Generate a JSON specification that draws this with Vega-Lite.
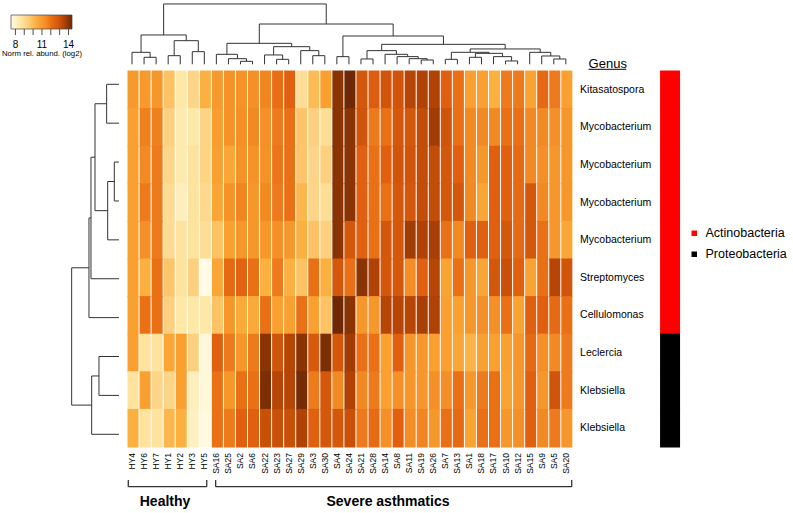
{
"$schema": "https://vega.github.io/schema/vega-lite/v6.json",
"width": 793, "height": 513, "padding": 0,
"autosize": {"type": "fit", "contains": "padding"},
"background": "white",
"config": {"view": {"stroke": null}, "font": "Liberation Sans"},
"datasets": {
"samples": [
{"sample":"HY4","col":0},{"sample":"HY6","col":1},{"sample":"HY7","col":2},{"sample":"HY1","col":3},{"sample":"HY2","col":4},{"sample":"HY3","col":5},{"sample":"HY5","col":6},{"sample":"SA16","col":7},{"sample":"SA25","col":8},{"sample":"SA2","col":9},{"sample":"SA6","col":10},{"sample":"SA22","col":11},{"sample":"SA23","col":12},{"sample":"SA27","col":13},{"sample":"SA29","col":14},{"sample":"SA3","col":15},{"sample":"SA30","col":16},{"sample":"SA4","col":17},{"sample":"SA24","col":18},{"sample":"SA21","col":19},{"sample":"SA28","col":20},{"sample":"SA14","col":21},{"sample":"SA8","col":22},{"sample":"SA11","col":23},{"sample":"SA19","col":24},{"sample":"SA26","col":25},{"sample":"SA7","col":26},{"sample":"SA13","col":27},{"sample":"SA1","col":28},{"sample":"SA18","col":29},{"sample":"SA17","col":30},{"sample":"SA10","col":31},{"sample":"SA12","col":32},{"sample":"SA15","col":33},{"sample":"SA9","col":34},{"sample":"SA5","col":35},{"sample":"SA20","col":36}
],
"genera": [
{"row":0,"genus":"Kitasatospora","phylum":"Actinobacteria"},
{"row":1,"genus":"Mycobacterium","phylum":"Actinobacteria"},
{"row":2,"genus":"Mycobacterium","phylum":"Actinobacteria"},
{"row":3,"genus":"Mycobacterium","phylum":"Actinobacteria"},
{"row":4,"genus":"Mycobacterium","phylum":"Actinobacteria"},
{"row":5,"genus":"Streptomyces","phylum":"Actinobacteria"},
{"row":6,"genus":"Cellulomonas","phylum":"Actinobacteria"},
{"row":7,"genus":"Leclercia","phylum":"Proteobacteria"},
{"row":8,"genus":"Klebsiella","phylum":"Proteobacteria"},
{"row":9,"genus":"Klebsiella","phylum":"Proteobacteria"}
],
"legendTicks": [{"tick":8},{"tick":9},{"tick":10},{"tick":11},{"tick":12},{"tick":13},{"tick":14}],
"colTree": [
{"x1":1.5,"x2":1.5,"h1":0,"h2":1.17},{"x1":2.5,"x2":2.5,"h1":0,"h2":1.17},{"x1":1.5,"x2":2.5,"h1":1.17,"h2":1.17},
{"x1":0.5,"x2":0.5,"h1":0,"h2":2.0},{"x1":2.0,"x2":2.0,"h1":1.17,"h2":2.0},{"x1":0.5,"x2":2.0,"h1":2.0,"h2":2.0},
{"x1":3.5,"x2":3.5,"h1":0,"h2":1.44},{"x1":4.5,"x2":4.5,"h1":0,"h2":1.44},{"x1":3.5,"x2":4.5,"h1":1.44,"h2":1.44},
{"x1":5.5,"x2":5.5,"h1":0,"h2":2.11},{"x1":6.5,"x2":6.5,"h1":0,"h2":2.11},{"x1":5.5,"x2":6.5,"h1":2.11,"h2":2.11},
{"x1":4.0,"x2":4.0,"h1":1.44,"h2":3.94},{"x1":6.0,"x2":6.0,"h1":2.11,"h2":3.94},{"x1":4.0,"x2":6.0,"h1":3.94,"h2":3.94},
{"x1":1.25,"x2":1.25,"h1":2.0,"h2":4.89},{"x1":5.0,"x2":5.0,"h1":3.94,"h2":4.89},{"x1":1.25,"x2":5.0,"h1":4.89,"h2":4.89},
{"x1":9.5,"x2":9.5,"h1":0,"h2":0.5},{"x1":10.5,"x2":10.5,"h1":0,"h2":0.5},{"x1":9.5,"x2":10.5,"h1":0.5,"h2":0.5},
{"x1":8.5,"x2":8.5,"h1":0,"h2":0.94},{"x1":10.0,"x2":10.0,"h1":0.5,"h2":0.94},{"x1":8.5,"x2":10.0,"h1":0.94,"h2":0.94},
{"x1":7.5,"x2":7.5,"h1":0,"h2":1.67},{"x1":9.25,"x2":9.25,"h1":0.94,"h2":1.67},{"x1":7.5,"x2":9.25,"h1":1.67,"h2":1.67},
{"x1":12.5,"x2":12.5,"h1":0,"h2":0.83},{"x1":13.5,"x2":13.5,"h1":0,"h2":0.83},{"x1":12.5,"x2":13.5,"h1":0.83,"h2":0.83},
{"x1":11.5,"x2":11.5,"h1":0,"h2":1.56},{"x1":13.0,"x2":13.0,"h1":0.83,"h2":1.56},{"x1":11.5,"x2":13.0,"h1":1.56,"h2":1.56},
{"x1":15.5,"x2":15.5,"h1":0,"h2":1.44},{"x1":16.5,"x2":16.5,"h1":0,"h2":1.44},{"x1":15.5,"x2":16.5,"h1":1.44,"h2":1.44},
{"x1":14.5,"x2":14.5,"h1":0,"h2":2.28},{"x1":16.0,"x2":16.0,"h1":1.44,"h2":2.28},{"x1":14.5,"x2":16.0,"h1":2.28,"h2":2.28},
{"x1":12.25,"x2":12.25,"h1":1.56,"h2":2.94},{"x1":15.25,"x2":15.25,"h1":2.28,"h2":2.94},{"x1":12.25,"x2":15.25,"h1":2.94,"h2":2.94},
{"x1":8.375,"x2":8.375,"h1":1.67,"h2":3.5},{"x1":13.75,"x2":13.75,"h1":2.94,"h2":3.5},{"x1":8.375,"x2":13.75,"h1":3.5,"h2":3.5},
{"x1":17.5,"x2":17.5,"h1":0,"h2":1.28},{"x1":18.5,"x2":18.5,"h1":0,"h2":1.28},{"x1":17.5,"x2":18.5,"h1":1.28,"h2":1.28},
{"x1":24.5,"x2":24.5,"h1":0,"h2":0.72},{"x1":25.5,"x2":25.5,"h1":0,"h2":0.72},{"x1":24.5,"x2":25.5,"h1":0.72,"h2":0.72},
{"x1":23.5,"x2":23.5,"h1":0,"h2":0.94},{"x1":25.0,"x2":25.0,"h1":0.72,"h2":0.94},{"x1":23.5,"x2":25.0,"h1":0.94,"h2":0.94},
{"x1":22.5,"x2":22.5,"h1":0,"h2":1.28},{"x1":24.25,"x2":24.25,"h1":0.94,"h2":1.28},{"x1":22.5,"x2":24.25,"h1":1.28,"h2":1.28},
{"x1":21.5,"x2":21.5,"h1":0,"h2":1.67},{"x1":23.375,"x2":23.375,"h1":1.28,"h2":1.67},{"x1":21.5,"x2":23.375,"h1":1.67,"h2":1.67},
{"x1":19.5,"x2":19.5,"h1":0,"h2":0.89},{"x1":20.5,"x2":20.5,"h1":0,"h2":0.89},{"x1":19.5,"x2":20.5,"h1":0.89,"h2":0.89},
{"x1":20.0,"x2":20.0,"h1":0.89,"h2":2.28},{"x1":22.4375,"x2":22.4375,"h1":1.67,"h2":2.28},{"x1":20.0,"x2":22.4375,"h1":2.28,"h2":2.28},
{"x1":26.5,"x2":26.5,"h1":0,"h2":0.83},{"x1":27.5,"x2":27.5,"h1":0,"h2":0.83},{"x1":26.5,"x2":27.5,"h1":0.83,"h2":0.83},
{"x1":28.5,"x2":28.5,"h1":0,"h2":1.17},{"x1":29.5,"x2":29.5,"h1":0,"h2":1.17},{"x1":28.5,"x2":29.5,"h1":1.17,"h2":1.17},
{"x1":31.5,"x2":31.5,"h1":0,"h2":0.56},{"x1":32.5,"x2":32.5,"h1":0,"h2":0.56},{"x1":31.5,"x2":32.5,"h1":0.56,"h2":0.56},
{"x1":30.5,"x2":30.5,"h1":0,"h2":1.28},{"x1":32.0,"x2":32.0,"h1":0.56,"h2":1.28},{"x1":30.5,"x2":32.0,"h1":1.28,"h2":1.28},
{"x1":29.0,"x2":29.0,"h1":1.17,"h2":1.83},{"x1":31.25,"x2":31.25,"h1":1.28,"h2":1.83},{"x1":29.0,"x2":31.25,"h1":1.83,"h2":1.83},
{"x1":27.0,"x2":27.0,"h1":0.83,"h2":2.0},{"x1":30.125,"x2":30.125,"h1":1.83,"h2":2.0},{"x1":27.0,"x2":30.125,"h1":2.0,"h2":2.0},
{"x1":35.5,"x2":35.5,"h1":0,"h2":0.89},{"x1":36.5,"x2":36.5,"h1":0,"h2":0.89},{"x1":35.5,"x2":36.5,"h1":0.89,"h2":0.89},
{"x1":34.5,"x2":34.5,"h1":0,"h2":1.39},{"x1":36.0,"x2":36.0,"h1":0.89,"h2":1.39},{"x1":34.5,"x2":36.0,"h1":1.39,"h2":1.39},
{"x1":33.5,"x2":33.5,"h1":0,"h2":2.0},{"x1":35.25,"x2":35.25,"h1":1.39,"h2":2.0},{"x1":33.5,"x2":35.25,"h1":2.0,"h2":2.0},
{"x1":28.5625,"x2":28.5625,"h1":2.0,"h2":2.56},{"x1":34.375,"x2":34.375,"h1":2.0,"h2":2.56},{"x1":28.5625,"x2":34.375,"h1":2.56,"h2":2.56},
{"x1":21.21875,"x2":21.21875,"h1":2.28,"h2":3.33},{"x1":31.46875,"x2":31.46875,"h1":2.56,"h2":3.33},{"x1":21.21875,"x2":31.46875,"h1":3.33,"h2":3.33},
{"x1":18.0,"x2":18.0,"h1":1.28,"h2":4.72},{"x1":26.34375,"x2":26.34375,"h1":3.33,"h2":4.72},{"x1":18.0,"x2":26.34375,"h1":4.72,"h2":4.72},
{"x1":11.0625,"x2":11.0625,"h1":3.5,"h2":6.72},{"x1":22.171875,"x2":22.171875,"h1":4.72,"h2":6.72},{"x1":11.0625,"x2":22.171875,"h1":6.72,"h2":6.72},
{"x1":3.125,"x2":3.125,"h1":4.89,"h2":10.06},{"x1":16.6171875,"x2":16.6171875,"h1":6.72,"h2":10.06},{"x1":3.125,"x2":16.6171875,"h1":10.06,"h2":10.06}
],
"rowTree": [
{"d1":0,"d2":2.61,"p1":0.5,"p2":0.5},{"d1":0,"d2":2.61,"p1":1.5,"p2":1.5},{"d1":2.61,"d2":2.61,"p1":0.5,"p2":1.5},
{"d1":0,"d2":0.99,"p1":2.5,"p2":2.5},{"d1":0,"d2":0.99,"p1":3.5,"p2":3.5},{"d1":0.99,"d2":0.99,"p1":2.5,"p2":3.5},
{"d1":0.99,"d2":2.39,"p1":3.0,"p2":3.0},{"d1":0,"d2":2.39,"p1":4.5,"p2":4.5},{"d1":2.39,"d2":2.39,"p1":3.0,"p2":4.5},
{"d1":2.61,"d2":5.07,"p1":1.0,"p2":1.0},{"d1":2.39,"d2":5.07,"p1":3.75,"p2":3.75},{"d1":5.07,"d2":5.07,"p1":1.0,"p2":3.75},
{"d1":5.07,"d2":5.92,"p1":2.375,"p2":2.375},{"d1":0,"d2":5.92,"p1":5.5,"p2":5.5},{"d1":5.92,"d2":5.92,"p1":2.375,"p2":5.5},
{"d1":5.92,"d2":6.34,"p1":3.9375,"p2":3.9375},{"d1":0,"d2":6.34,"p1":6.5,"p2":6.5},{"d1":6.34,"d2":6.34,"p1":3.9375,"p2":6.5},
{"d1":0,"d2":4.23,"p1":7.5,"p2":7.5},{"d1":0,"d2":4.23,"p1":8.5,"p2":8.5},{"d1":4.23,"d2":4.23,"p1":7.5,"p2":8.5},
{"d1":4.23,"d2":5.77,"p1":8.0,"p2":8.0},{"d1":0,"d2":5.77,"p1":9.5,"p2":9.5},{"d1":5.77,"d2":5.77,"p1":8.0,"p2":9.5},
{"d1":6.34,"d2":10,"p1":5.21875,"p2":5.21875},{"d1":5.77,"d2":10,"p1":8.75,"p2":8.75},{"d1":10,"d2":10,"p1":5.21875,"p2":8.75}
],
"cells": [
{"sample":"HY4","col":0,"row":0,"value":11.0},{"sample":"HY6","col":1,"row":0,"value":11.0},{"sample":"HY7","col":2,"row":0,"value":11.1},{"sample":"HY1","col":3,"row":0,"value":9.8},{"sample":"HY2","col":4,"row":0,"value":8.5},{"sample":"HY3","col":5,"row":0,"value":9.2},{"sample":"HY5","col":6,"row":0,"value":10.3},{"sample":"SA16","col":7,"row":0,"value":11.0},{"sample":"SA25","col":8,"row":0,"value":11.2},{"sample":"SA2","col":9,"row":0,"value":11.2},{"sample":"SA6","col":10,"row":0,"value":11.3},{"sample":"SA22","col":11,"row":0,"value":11.6},{"sample":"SA23","col":12,"row":0,"value":12.1},{"sample":"SA27","col":13,"row":0,"value":12.5},{"sample":"SA29","col":14,"row":0,"value":8.9},{"sample":"SA3","col":15,"row":0,"value":10.0},{"sample":"SA30","col":16,"row":0,"value":10.8},{"sample":"SA4","col":17,"row":0,"value":14.0},{"sample":"SA24","col":18,"row":0,"value":14.4},{"sample":"SA21","col":19,"row":0,"value":12.8},{"sample":"SA28","col":20,"row":0,"value":12.6},{"sample":"SA14","col":21,"row":0,"value":12.9},{"sample":"SA8","col":22,"row":0,"value":12.9},{"sample":"SA11","col":23,"row":0,"value":13.4},{"sample":"SA19","col":24,"row":0,"value":13.5},{"sample":"SA26","col":25,"row":0,"value":13.5},{"sample":"SA7","col":26,"row":0,"value":12.5},{"sample":"SA13","col":27,"row":0,"value":12.0},{"sample":"SA1","col":28,"row":0,"value":10.8},{"sample":"SA18","col":29,"row":0,"value":10.8},{"sample":"SA17","col":30,"row":0,"value":10.3},{"sample":"SA10","col":31,"row":0,"value":11.8},{"sample":"SA12","col":32,"row":0,"value":11.8},{"sample":"SA15","col":33,"row":0,"value":10.7},{"sample":"SA9","col":34,"row":0,"value":12.2},{"sample":"SA5","col":35,"row":0,"value":11.8},{"sample":"SA20","col":36,"row":0,"value":10.8},
{"sample":"HY4","col":0,"row":1,"value":10.8},{"sample":"HY6","col":1,"row":1,"value":11.7},{"sample":"HY7","col":2,"row":1,"value":11.7},{"sample":"HY1","col":3,"row":1,"value":9.4},{"sample":"HY2","col":4,"row":1,"value":8.4},{"sample":"HY3","col":5,"row":1,"value":8.5},{"sample":"HY5","col":6,"row":1,"value":9.3},{"sample":"SA16","col":7,"row":1,"value":10.9},{"sample":"SA25","col":8,"row":1,"value":11.2},{"sample":"SA2","col":9,"row":1,"value":11.3},{"sample":"SA6","col":10,"row":1,"value":11.5},{"sample":"SA22","col":11,"row":1,"value":11.3},{"sample":"SA23","col":12,"row":1,"value":11.8},{"sample":"SA27","col":13,"row":1,"value":12.0},{"sample":"SA29","col":14,"row":1,"value":9.7},{"sample":"SA3","col":15,"row":1,"value":9.4},{"sample":"SA30","col":16,"row":1,"value":8.9},{"sample":"SA4","col":17,"row":1,"value":14.0},{"sample":"SA24","col":18,"row":1,"value":14.0},{"sample":"SA21","col":19,"row":1,"value":12.9},{"sample":"SA28","col":20,"row":1,"value":11.8},{"sample":"SA14","col":21,"row":1,"value":12.0},{"sample":"SA8","col":22,"row":1,"value":12.8},{"sample":"SA11","col":23,"row":1,"value":12.8},{"sample":"SA19","col":24,"row":1,"value":13.2},{"sample":"SA26","col":25,"row":1,"value":13.7},{"sample":"SA7","col":26,"row":1,"value":12.9},{"sample":"SA13","col":27,"row":1,"value":12.0},{"sample":"SA1","col":28,"row":1,"value":11.5},{"sample":"SA18","col":29,"row":1,"value":11.5},{"sample":"SA17","col":30,"row":1,"value":11.5},{"sample":"SA10","col":31,"row":1,"value":12.0},{"sample":"SA12","col":32,"row":1,"value":12.0},{"sample":"SA15","col":33,"row":1,"value":11.5},{"sample":"SA9","col":34,"row":1,"value":11.5},{"sample":"SA5","col":35,"row":1,"value":11.3},{"sample":"SA20","col":36,"row":1,"value":11.1},
{"sample":"HY4","col":0,"row":2,"value":10.8},{"sample":"HY6","col":1,"row":2,"value":11.5},{"sample":"HY7","col":2,"row":2,"value":11.8},{"sample":"HY1","col":3,"row":2,"value":9.2},{"sample":"HY2","col":4,"row":2,"value":8.4},{"sample":"HY3","col":5,"row":2,"value":8.7},{"sample":"HY5","col":6,"row":2,"value":9.3},{"sample":"SA16","col":7,"row":2,"value":10.8},{"sample":"SA25","col":8,"row":2,"value":10.6},{"sample":"SA2","col":9,"row":2,"value":11.2},{"sample":"SA6","col":10,"row":2,"value":11.2},{"sample":"SA22","col":11,"row":2,"value":11.2},{"sample":"SA23","col":12,"row":2,"value":11.9},{"sample":"SA27","col":13,"row":2,"value":12.0},{"sample":"SA29","col":14,"row":2,"value":9.7},{"sample":"SA3","col":15,"row":2,"value":9.2},{"sample":"SA30","col":16,"row":2,"value":9.4},{"sample":"SA4","col":17,"row":2,"value":14.0},{"sample":"SA24","col":18,"row":2,"value":14.0},{"sample":"SA21","col":19,"row":2,"value":12.5},{"sample":"SA28","col":20,"row":2,"value":12.0},{"sample":"SA14","col":21,"row":2,"value":12.5},{"sample":"SA8","col":22,"row":2,"value":12.9},{"sample":"SA11","col":23,"row":2,"value":12.9},{"sample":"SA19","col":24,"row":2,"value":13.2},{"sample":"SA26","col":25,"row":2,"value":13.2},{"sample":"SA7","col":26,"row":2,"value":12.8},{"sample":"SA13","col":27,"row":2,"value":12.5},{"sample":"SA1","col":28,"row":2,"value":11.5},{"sample":"SA18","col":29,"row":2,"value":11.1},{"sample":"SA17","col":30,"row":2,"value":12.5},{"sample":"SA10","col":31,"row":2,"value":12.5},{"sample":"SA12","col":32,"row":2,"value":12.2},{"sample":"SA15","col":33,"row":2,"value":11.5},{"sample":"SA9","col":34,"row":2,"value":11.3},{"sample":"SA5","col":35,"row":2,"value":11.1},{"sample":"SA20","col":36,"row":2,"value":11.1},
{"sample":"HY4","col":0,"row":3,"value":10.8},{"sample":"HY6","col":1,"row":3,"value":11.8},{"sample":"HY7","col":2,"row":3,"value":11.8},{"sample":"HY1","col":3,"row":3,"value":9.0},{"sample":"HY2","col":4,"row":3,"value":8.2},{"sample":"HY3","col":5,"row":3,"value":8.7},{"sample":"HY5","col":6,"row":3,"value":9.1},{"sample":"SA16","col":7,"row":3,"value":10.6},{"sample":"SA25","col":8,"row":3,"value":11.2},{"sample":"SA2","col":9,"row":3,"value":11.6},{"sample":"SA6","col":10,"row":3,"value":11.1},{"sample":"SA22","col":11,"row":3,"value":11.5},{"sample":"SA23","col":12,"row":3,"value":11.8},{"sample":"SA27","col":13,"row":3,"value":12.0},{"sample":"SA29","col":14,"row":3,"value":10.1},{"sample":"SA3","col":15,"row":3,"value":9.2},{"sample":"SA30","col":16,"row":3,"value":8.9},{"sample":"SA4","col":17,"row":3,"value":14.0},{"sample":"SA24","col":18,"row":3,"value":14.0},{"sample":"SA21","col":19,"row":3,"value":12.5},{"sample":"SA28","col":20,"row":3,"value":12.0},{"sample":"SA14","col":21,"row":3,"value":12.0},{"sample":"SA8","col":22,"row":3,"value":12.8},{"sample":"SA11","col":23,"row":3,"value":12.8},{"sample":"SA19","col":24,"row":3,"value":13.2},{"sample":"SA26","col":25,"row":3,"value":13.2},{"sample":"SA7","col":26,"row":3,"value":12.8},{"sample":"SA13","col":27,"row":3,"value":12.8},{"sample":"SA1","col":28,"row":3,"value":11.5},{"sample":"SA18","col":29,"row":3,"value":10.6},{"sample":"SA17","col":30,"row":3,"value":12.5},{"sample":"SA10","col":31,"row":3,"value":12.5},{"sample":"SA12","col":32,"row":3,"value":12.2},{"sample":"SA15","col":33,"row":3,"value":12.8},{"sample":"SA9","col":34,"row":3,"value":11.5},{"sample":"SA5","col":35,"row":3,"value":11.1},{"sample":"SA20","col":36,"row":3,"value":11.1},
{"sample":"HY4","col":0,"row":4,"value":10.8},{"sample":"HY6","col":1,"row":4,"value":11.3},{"sample":"HY7","col":2,"row":4,"value":11.8},{"sample":"HY1","col":3,"row":4,"value":9.0},{"sample":"HY2","col":4,"row":4,"value":8.7},{"sample":"HY3","col":5,"row":4,"value":8.7},{"sample":"HY5","col":6,"row":4,"value":8.9},{"sample":"SA16","col":7,"row":4,"value":9.8},{"sample":"SA25","col":8,"row":4,"value":10.8},{"sample":"SA2","col":9,"row":4,"value":11.1},{"sample":"SA6","col":10,"row":4,"value":11.1},{"sample":"SA22","col":11,"row":4,"value":11.1},{"sample":"SA23","col":12,"row":4,"value":11.3},{"sample":"SA27","col":13,"row":4,"value":11.1},{"sample":"SA29","col":14,"row":4,"value":10.3},{"sample":"SA3","col":15,"row":4,"value":9.8},{"sample":"SA30","col":16,"row":4,"value":9.4},{"sample":"SA4","col":17,"row":4,"value":14.0},{"sample":"SA24","col":18,"row":4,"value":12.8},{"sample":"SA21","col":19,"row":4,"value":12.5},{"sample":"SA28","col":20,"row":4,"value":12.0},{"sample":"SA14","col":21,"row":4,"value":12.8},{"sample":"SA8","col":22,"row":4,"value":12.8},{"sample":"SA11","col":23,"row":4,"value":13.7},{"sample":"SA19","col":24,"row":4,"value":13.5},{"sample":"SA26","col":25,"row":4,"value":13.6},{"sample":"SA7","col":26,"row":4,"value":12.0},{"sample":"SA13","col":27,"row":4,"value":11.5},{"sample":"SA1","col":28,"row":4,"value":12.5},{"sample":"SA18","col":29,"row":4,"value":12.5},{"sample":"SA17","col":30,"row":4,"value":12.5},{"sample":"SA10","col":31,"row":4,"value":12.8},{"sample":"SA12","col":32,"row":4,"value":12.2},{"sample":"SA15","col":33,"row":4,"value":12.8},{"sample":"SA9","col":34,"row":4,"value":12.0},{"sample":"SA5","col":35,"row":4,"value":11.1},{"sample":"SA20","col":36,"row":4,"value":10.6},
{"sample":"HY4","col":0,"row":5,"value":10.8},{"sample":"HY6","col":1,"row":5,"value":10.3},{"sample":"HY7","col":2,"row":5,"value":12.0},{"sample":"HY1","col":3,"row":5,"value":9.7},{"sample":"HY2","col":4,"row":5,"value":8.7},{"sample":"HY3","col":5,"row":5,"value":9.4},{"sample":"HY5","col":6,"row":5,"value":7.5},{"sample":"SA16","col":7,"row":5,"value":10.6},{"sample":"SA25","col":8,"row":5,"value":12.2},{"sample":"SA2","col":9,"row":5,"value":12.4},{"sample":"SA6","col":10,"row":5,"value":12.0},{"sample":"SA22","col":11,"row":5,"value":10.3},{"sample":"SA23","col":12,"row":5,"value":11.8},{"sample":"SA27","col":13,"row":5,"value":10.3},{"sample":"SA29","col":14,"row":5,"value":9.8},{"sample":"SA3","col":15,"row":5,"value":12.0},{"sample":"SA30","col":16,"row":5,"value":10.3},{"sample":"SA4","col":17,"row":5,"value":12.8},{"sample":"SA24","col":18,"row":5,"value":12.0},{"sample":"SA21","col":19,"row":5,"value":14.0},{"sample":"SA28","col":20,"row":5,"value":13.5},{"sample":"SA14","col":21,"row":5,"value":12.8},{"sample":"SA8","col":22,"row":5,"value":12.8},{"sample":"SA11","col":23,"row":5,"value":11.4},{"sample":"SA19","col":24,"row":5,"value":12.5},{"sample":"SA26","col":25,"row":5,"value":13.4},{"sample":"SA7","col":26,"row":5,"value":10.7},{"sample":"SA13","col":27,"row":5,"value":12.0},{"sample":"SA1","col":28,"row":5,"value":11.1},{"sample":"SA18","col":29,"row":5,"value":10.6},{"sample":"SA17","col":30,"row":5,"value":12.8},{"sample":"SA10","col":31,"row":5,"value":13.1},{"sample":"SA12","col":32,"row":5,"value":12.5},{"sample":"SA15","col":33,"row":5,"value":10.7},{"sample":"SA9","col":34,"row":5,"value":12.0},{"sample":"SA5","col":35,"row":5,"value":13.4},{"sample":"SA20","col":36,"row":5,"value":12.9},
{"sample":"HY4","col":0,"row":6,"value":10.8},{"sample":"HY6","col":1,"row":6,"value":12.0},{"sample":"HY7","col":2,"row":6,"value":12.0},{"sample":"HY1","col":3,"row":6,"value":9.4},{"sample":"HY2","col":4,"row":6,"value":8.5},{"sample":"HY3","col":5,"row":6,"value":8.5},{"sample":"HY5","col":6,"row":6,"value":8.5},{"sample":"SA16","col":7,"row":6,"value":9.8},{"sample":"SA25","col":8,"row":6,"value":11.1},{"sample":"SA2","col":9,"row":6,"value":10.5},{"sample":"SA6","col":10,"row":6,"value":10.5},{"sample":"SA22","col":11,"row":6,"value":12.0},{"sample":"SA23","col":12,"row":6,"value":10.8},{"sample":"SA27","col":13,"row":6,"value":10.8},{"sample":"SA29","col":14,"row":6,"value":12.0},{"sample":"SA3","col":15,"row":6,"value":10.8},{"sample":"SA30","col":16,"row":6,"value":9.8},{"sample":"SA4","col":17,"row":6,"value":14.4},{"sample":"SA24","col":18,"row":6,"value":14.0},{"sample":"SA21","col":19,"row":6,"value":11.1},{"sample":"SA28","col":20,"row":6,"value":11.1},{"sample":"SA14","col":21,"row":6,"value":13.4},{"sample":"SA8","col":22,"row":6,"value":13.4},{"sample":"SA11","col":23,"row":6,"value":13.4},{"sample":"SA19","col":24,"row":6,"value":13.6},{"sample":"SA26","col":25,"row":6,"value":13.5},{"sample":"SA7","col":26,"row":6,"value":10.8},{"sample":"SA13","col":27,"row":6,"value":10.8},{"sample":"SA1","col":28,"row":6,"value":11.1},{"sample":"SA18","col":29,"row":6,"value":11.3},{"sample":"SA17","col":30,"row":6,"value":11.3},{"sample":"SA10","col":31,"row":6,"value":12.0},{"sample":"SA12","col":32,"row":6,"value":10.7},{"sample":"SA15","col":33,"row":6,"value":12.5},{"sample":"SA9","col":34,"row":6,"value":12.5},{"sample":"SA5","col":35,"row":6,"value":12.2},{"sample":"SA20","col":36,"row":6,"value":12.0},
{"sample":"HY4","col":0,"row":7,"value":10.8},{"sample":"HY6","col":1,"row":7,"value":8.7},{"sample":"HY7","col":2,"row":7,"value":8.7},{"sample":"HY1","col":3,"row":7,"value":10.6},{"sample":"HY2","col":4,"row":7,"value":10.8},{"sample":"HY3","col":5,"row":7,"value":9.4},{"sample":"HY5","col":6,"row":7,"value":7.7},{"sample":"SA16","col":7,"row":7,"value":12.5},{"sample":"SA25","col":8,"row":7,"value":11.8},{"sample":"SA2","col":9,"row":7,"value":11.1},{"sample":"SA6","col":10,"row":7,"value":11.8},{"sample":"SA22","col":11,"row":7,"value":14.0},{"sample":"SA23","col":12,"row":7,"value":12.9},{"sample":"SA27","col":13,"row":7,"value":13.4},{"sample":"SA29","col":14,"row":7,"value":14.0},{"sample":"SA3","col":15,"row":7,"value":12.7},{"sample":"SA30","col":16,"row":7,"value":14.2},{"sample":"SA4","col":17,"row":7,"value":12.8},{"sample":"SA24","col":18,"row":7,"value":13.7},{"sample":"SA21","col":19,"row":7,"value":12.0},{"sample":"SA28","col":20,"row":7,"value":12.0},{"sample":"SA14","col":21,"row":7,"value":10.8},{"sample":"SA8","col":22,"row":7,"value":12.5},{"sample":"SA11","col":23,"row":7,"value":11.1},{"sample":"SA19","col":24,"row":7,"value":11.1},{"sample":"SA26","col":25,"row":7,"value":10.8},{"sample":"SA7","col":26,"row":7,"value":10.8},{"sample":"SA13","col":27,"row":7,"value":10.6},{"sample":"SA1","col":28,"row":7,"value":10.2},{"sample":"SA18","col":29,"row":7,"value":10.8},{"sample":"SA17","col":30,"row":7,"value":10.8},{"sample":"SA10","col":31,"row":7,"value":10.8},{"sample":"SA12","col":32,"row":7,"value":11.1},{"sample":"SA15","col":33,"row":7,"value":12.2},{"sample":"SA9","col":34,"row":7,"value":11.3},{"sample":"SA5","col":35,"row":7,"value":11.5},{"sample":"SA20","col":36,"row":7,"value":11.8},
{"sample":"HY4","col":0,"row":8,"value":8.7},{"sample":"HY6","col":1,"row":8,"value":10.8},{"sample":"HY7","col":2,"row":8,"value":9.2},{"sample":"HY1","col":3,"row":8,"value":9.2},{"sample":"HY2","col":4,"row":8,"value":10.8},{"sample":"HY3","col":5,"row":8,"value":8.2},{"sample":"HY5","col":6,"row":8,"value":7.7},{"sample":"SA16","col":7,"row":8,"value":12.0},{"sample":"SA25","col":8,"row":8,"value":11.1},{"sample":"SA2","col":9,"row":8,"value":12.0},{"sample":"SA6","col":10,"row":8,"value":12.0},{"sample":"SA22","col":11,"row":8,"value":14.2},{"sample":"SA23","col":12,"row":8,"value":13.4},{"sample":"SA27","col":13,"row":8,"value":13.4},{"sample":"SA29","col":14,"row":8,"value":14.3},{"sample":"SA3","col":15,"row":8,"value":11.8},{"sample":"SA30","col":16,"row":8,"value":12.8},{"sample":"SA4","col":17,"row":8,"value":11.5},{"sample":"SA24","col":18,"row":8,"value":13.5},{"sample":"SA21","col":19,"row":8,"value":11.5},{"sample":"SA28","col":20,"row":8,"value":11.8},{"sample":"SA14","col":21,"row":8,"value":10.8},{"sample":"SA8","col":22,"row":8,"value":11.3},{"sample":"SA11","col":23,"row":8,"value":11.1},{"sample":"SA19","col":24,"row":8,"value":11.1},{"sample":"SA26","col":25,"row":8,"value":11.3},{"sample":"SA7","col":26,"row":8,"value":11.3},{"sample":"SA13","col":27,"row":8,"value":12.0},{"sample":"SA1","col":28,"row":8,"value":11.1},{"sample":"SA18","col":29,"row":8,"value":11.8},{"sample":"SA17","col":30,"row":8,"value":12.0},{"sample":"SA10","col":31,"row":8,"value":10.7},{"sample":"SA12","col":32,"row":8,"value":11.1},{"sample":"SA15","col":33,"row":8,"value":12.5},{"sample":"SA9","col":34,"row":8,"value":11.1},{"sample":"SA5","col":35,"row":8,"value":12.9},{"sample":"SA20","col":36,"row":8,"value":11.8},
{"sample":"HY4","col":0,"row":9,"value":10.3},{"sample":"HY6","col":1,"row":9,"value":8.7},{"sample":"HY7","col":2,"row":9,"value":8.7},{"sample":"HY1","col":3,"row":9,"value":10.1},{"sample":"HY2","col":4,"row":9,"value":10.3},{"sample":"HY3","col":5,"row":9,"value":8.1},{"sample":"HY5","col":6,"row":9,"value":7.6},{"sample":"SA16","col":7,"row":9,"value":12.0},{"sample":"SA25","col":8,"row":9,"value":11.8},{"sample":"SA2","col":9,"row":9,"value":12.5},{"sample":"SA6","col":10,"row":9,"value":12.5},{"sample":"SA22","col":11,"row":9,"value":13.1},{"sample":"SA23","col":12,"row":9,"value":13.1},{"sample":"SA27","col":13,"row":9,"value":13.1},{"sample":"SA29","col":14,"row":9,"value":13.5},{"sample":"SA3","col":15,"row":9,"value":12.5},{"sample":"SA30","col":16,"row":9,"value":12.8},{"sample":"SA4","col":17,"row":9,"value":12.8},{"sample":"SA24","col":18,"row":9,"value":13.1},{"sample":"SA21","col":19,"row":9,"value":11.8},{"sample":"SA28","col":20,"row":9,"value":12.2},{"sample":"SA14","col":21,"row":9,"value":11.3},{"sample":"SA8","col":22,"row":9,"value":12.5},{"sample":"SA11","col":23,"row":9,"value":11.4},{"sample":"SA19","col":24,"row":9,"value":11.6},{"sample":"SA26","col":25,"row":9,"value":11.1},{"sample":"SA7","col":26,"row":9,"value":12.0},{"sample":"SA13","col":27,"row":9,"value":12.2},{"sample":"SA1","col":28,"row":9,"value":10.7},{"sample":"SA18","col":29,"row":9,"value":12.0},{"sample":"SA17","col":30,"row":9,"value":12.0},{"sample":"SA10","col":31,"row":9,"value":11.1},{"sample":"SA12","col":32,"row":9,"value":11.3},{"sample":"SA15","col":33,"row":9,"value":12.5},{"sample":"SA9","col":34,"row":9,"value":11.5},{"sample":"SA5","col":35,"row":9,"value":11.8},{"sample":"SA20","col":36,"row":9,"value":11.1}
]
},
"layer": [
{
"resolve": {"scale": {"color": "independent"}},
"layer": [
{
"data": {"name": "cells"},
"mark": {"type": "rect", "binSpacing": 0, "x2Offset": 1, "y2Offset": 1},
"encoding": {
"x": {"field": "col", "type": "quantitative", "bin": {"step": 1, "extent": [0, 37], "nice": false}, "scale": {"domain": [-10.4564, 55.3527], "nice": false, "zero": false}, "axis": null},
"y": {"field": "row", "type": "quantitative", "bin": {"step": 1, "extent": [0, 10], "nice": false}, "scale": {"domain": [-1.8883, 11.7553], "reverse": true, "nice": false, "zero": false}, "axis": null},
"color": {"field": "value", "type": "quantitative",
"scale": {"domain": [7.5, 8.5, 9.4, 10.3, 10.8, 11.5, 12.0, 12.5, 13.1, 13.5, 14.0, 14.4], "range": ["#fffbe6", "#fee8a8", "#fdd080", "#fbb040", "#f9a030", "#f28a24", "#ea7016", "#e06010", "#c85008", "#b04206", "#8a3404", "#6e2805"], "interpolate": "rgb"},
"legend": {"type": "gradient", "orient": "none", "legendX": 2, "legendY": 15, "direction": "horizontal", "gradientLength": 61, "gradientThickness": 14, "values": [8, 11, 14], "title": "Norm rel. abund. (log2)", "titleOrient": "bottom", "titleAnchor": "middle", "titleFontSize": 7.8, "titleFontWeight": "normal", "titleFont": "Liberation Sans", "titleColor": "#000", "titlePadding": 0, "labelFontSize": 10, "labelFont": "Liberation Sans", "labelColor": "#000", "labelOffset": 11, "gradientStrokeColor": "#444", "gradientStrokeWidth": 0.7, "padding": 0}}
}
},
{
"data": {"name": "genera"},
"mark": {"type": "rect", "binSpacing": 0, "y2Offset": 1},
"encoding": {
"x": {"datum": 44.32, "type": "quantitative", "scale": {"domain": [-10.4564, 55.3527], "nice": false, "zero": false}, "axis": null},
"x2": {"datum": 45.98},
"y": {"field": "row", "type": "quantitative", "bin": {"step": 1, "extent": [0, 10], "nice": false}, "scale": {"domain": [-1.8883, 11.7553], "reverse": true, "nice": false, "zero": false}, "axis": null},
"color": {"field": "phylum", "type": "nominal", "scale": {"domain": ["Actinobacteria", "Proteobacteria"], "range": ["#ff0000", "#000000"]},
"legend": {"orient": "none", "legendX": 688, "legendY": 227, "title": null, "symbolType": "square", "symbolSize": 30, "symbolStrokeWidth": 0, "labelFontSize": 12.5, "labelFont": "Liberation Sans", "labelColor": "#000", "labelOffset": 5, "rowPadding": 8, "padding": 0}}
}
},
{
"data": {"name": "genera"},
"mark": {"type": "text", "align": "left", "baseline": "middle", "dy": 18.8, "fontSize": 10.5, "font": "Liberation Sans", "color": "#000"},
"encoding": {
"x": {"datum": 37.68, "type": "quantitative", "scale": {"domain": [-10.4564, 55.3527], "nice": false, "zero": false}, "axis": null},
"y": {"field": "row", "type": "quantitative", "scale": {"domain": [-1.8883, 11.7553], "reverse": true, "nice": false, "zero": false}, "axis": null},
"text": {"field": "genus"}
}
},
{
"data": {"name": "samples"},
"mark": {"type": "text", "angle": 270, "align": "right", "baseline": "middle", "dy": 6.0, "fontSize": 8.5, "font": "Liberation Sans", "color": "#000"},
"encoding": {
"x": {"field": "col", "type": "quantitative", "scale": {"domain": [-10.4564, 55.3527], "nice": false, "zero": false}, "axis": null},
"y": {"datum": 10.16, "type": "quantitative", "scale": {"domain": [-1.8883, 11.7553], "reverse": true, "nice": false, "zero": false}, "axis": null},
"text": {"field": "sample"}
}
},
{
"data": {"values": [{"label": "Genus"}]},
"mark": {"type": "text", "align": "left", "baseline": "middle", "fontSize": 13, "font": "Liberation Sans", "color": "#000"},
"encoding": {
"x": {"datum": 38.39, "type": "quantitative"},
"y": {"datum": -0.186, "type": "quantitative"},
"text": {"field": "label"}
}
},
{
"data": {"values": [{}]},
"mark": {"type": "rule", "color": "#000", "strokeWidth": 1},
"encoding": {"x": {"datum": 38.39, "type": "quantitative"}, "x2": {"datum": 41.51}, "y": {"datum": -0.045, "type": "quantitative"}}
},
{
"data": {"values": [{}]},
"mark": {"type": "rule", "color": "#333", "strokeWidth": 1.3},
"encoding": {"x": {"datum": 0.19, "type": "quantitative"}, "x2": {"datum": 6.70}, "y": {"datum": 11.056, "type": "quantitative"}}
},
{
"data": {"values": [{}]},
"mark": {"type": "rule", "color": "#333", "strokeWidth": 1.3},
"encoding": {"x": {"datum": 0.19, "type": "quantitative"}, "y": {"datum": 10.878, "type": "quantitative"}, "y2": {"datum": 11.056}}
},
{
"data": {"values": [{}]},
"mark": {"type": "rule", "color": "#333", "strokeWidth": 1.3},
"encoding": {"x": {"datum": 6.70, "type": "quantitative"}, "y": {"datum": 10.878, "type": "quantitative"}, "y2": {"datum": 11.056}}
},
{
"data": {"values": [{}]},
"mark": {"type": "rule", "color": "#333", "strokeWidth": 1.3},
"encoding": {"x": {"datum": 7.44, "type": "quantitative"}, "x2": {"datum": 36.99}, "y": {"datum": 11.056, "type": "quantitative"}}
},
{
"data": {"values": [{}]},
"mark": {"type": "rule", "color": "#333", "strokeWidth": 1.3},
"encoding": {"x": {"datum": 7.44, "type": "quantitative"}, "y": {"datum": 10.878, "type": "quantitative"}, "y2": {"datum": 11.056}}
},
{
"data": {"values": [{}]},
"mark": {"type": "rule", "color": "#333", "strokeWidth": 1.3},
"encoding": {"x": {"datum": 36.99, "type": "quantitative"}, "y": {"datum": 10.878, "type": "quantitative"}, "y2": {"datum": 11.056}}
},
{
"data": {"values": [{"label": "Healthy"}]},
"mark": {"type": "text", "align": "center", "baseline": "middle", "fontSize": 14, "fontWeight": "bold", "font": "Liberation Sans", "color": "#000"},
"encoding": {"x": {"datum": 3.24, "type": "quantitative"}, "y": {"datum": 11.455, "type": "quantitative"}, "text": {"field": "label"}}
},
{
"data": {"values": [{"label": "Severe asthmatics"}]},
"mark": {"type": "text", "align": "center", "baseline": "middle", "fontSize": 14, "fontWeight": "bold", "font": "Liberation Sans", "color": "#000"},
"encoding": {"x": {"datum": 21.74, "type": "quantitative"}, "y": {"datum": 11.455, "type": "quantitative"}, "text": {"field": "label"}}
}
]
},
{
"data": {"name": "legendTicks"},
"mark": {"type": "rule", "color": "#222", "strokeWidth": 0.8},
"encoding": {
"x": {"field": "tick", "type": "quantitative", "scale": {"domain": [6.2558, 95.95], "nice": false, "zero": false}, "axis": null},
"y": {"datum": -1.117, "type": "quantitative", "scale": {"domain": [-1.8883, 11.7553], "reverse": true, "nice": false, "zero": false}, "axis": null},
"y2": {"datum": -0.957}
}
},
{
"data": {"name": "colTree"},
"mark": {"type": "rule", "color": "#333", "strokeWidth": 1},
"encoding": {
"x": {"field": "x1", "type": "quantitative", "scale": {"domain": [-10.4564, 55.3527], "nice": false, "zero": false}, "axis": null},
"x2": {"field": "x2"},
"y": {"field": "h1", "type": "quantitative", "scale": {"domain": [-74.78, 10.72], "nice": false, "zero": false}, "axis": null},
"y2": {"field": "h2"}
}
},
{
"data": {"name": "rowTree"},
"mark": {"type": "rule", "color": "#333", "strokeWidth": 1},
"encoding": {
"x": {"field": "d1", "type": "quantitative", "scale": {"domain": [-142.4, 25.14], "reverse": true, "nice": false, "zero": false}, "axis": null},
"x2": {"field": "d2"},
"y": {"field": "p1", "type": "quantitative", "scale": {"domain": [-1.6676, 11.524], "reverse": true, "nice": false, "zero": false}, "axis": null},
"y2": {"field": "p2"}
}
}
],
"resolve": {"scale": {"x": "independent", "y": "independent", "color": "independent"}}
}
